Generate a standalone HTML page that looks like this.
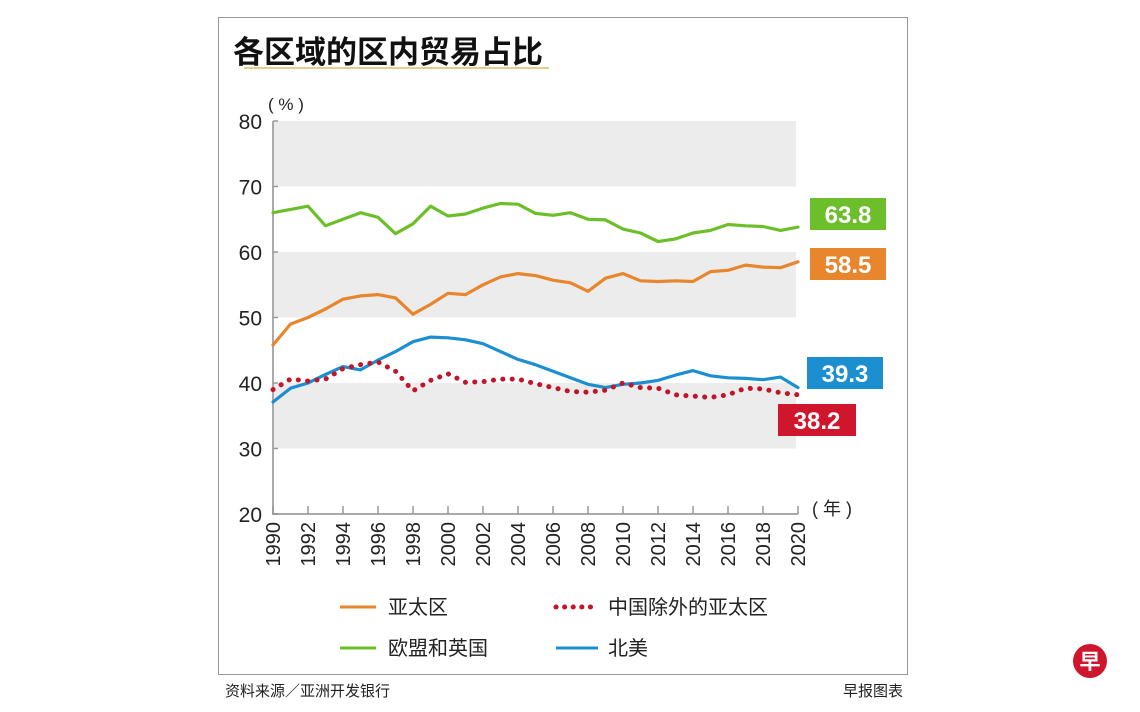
<!DOCTYPE html>
<html><head><meta charset="utf-8"><style>
body{margin:0;background:#fff;}
svg{display:block;font-family:"Liberation Sans","Noto Sans CJK SC",sans-serif;}
</style></head><body>
<svg width="1140" height="712" viewBox="0 0 1140 712">
<rect x="218.5" y="17.5" width="689" height="657" fill="none" stroke="#999" stroke-width="1"/>
<text x="233" y="63" font-size="31" font-weight="bold" fill="#111">各区域的区内贸易占比</text>
<rect x="244" y="67" width="305" height="2" fill="#e2cf8e"/>
<text x="268" y="110" font-size="17" fill="#222">( % )</text>
<g id="bands"></g>
<g id="axes"></g>
<g id="series"></g>
<text x="812" y="515" font-size="18" fill="#222">( 年 )</text>
<rect x="810" y="198" width="76" height="32" fill="#6cbf2a"/>
<text x="848" y="223" font-size="24" font-weight="bold" fill="#fff" text-anchor="middle">63.8</text>
<rect x="810" y="248" width="76" height="32" fill="#e8862d"/>
<text x="848" y="273" font-size="24" font-weight="bold" fill="#fff" text-anchor="middle">58.5</text>
<rect x="807" y="357" width="76" height="32" fill="#1b8fd0"/>
<text x="845" y="382" font-size="24" font-weight="bold" fill="#fff" text-anchor="middle">39.3</text>
<rect x="778" y="404" width="78" height="32" fill="#d0162c"/>
<text x="817" y="429" font-size="24" font-weight="bold" fill="#fff" text-anchor="middle">38.2</text>
<g>
<line x1="340" y1="607" x2="376" y2="607" stroke="#e8862d" stroke-width="3"/>
<text x="388" y="614" font-size="20" fill="#222">亚太区</text>
<line x1="556" y1="607" x2="598" y2="607" stroke="#c0152a" stroke-width="5" stroke-dasharray="0.1 8.5" stroke-linecap="round"/>
<text x="608" y="614" font-size="20" fill="#222">中国除外的亚太区</text>
<line x1="340" y1="648" x2="376" y2="648" stroke="#6cbf2a" stroke-width="3"/>
<text x="388" y="655" font-size="20" fill="#222">欧盟和英国</text>
<line x1="556" y1="648" x2="598" y2="648" stroke="#1b8fd0" stroke-width="3"/>
<text x="608" y="655" font-size="20" fill="#222">北美</text>
</g>
<text x="225" y="696" font-size="15" fill="#222">资料来源／亚洲开发银行</text>
<text x="903" y="696" font-size="15" fill="#222" text-anchor="end">早报图表</text>
<circle cx="1090" cy="661" r="17" fill="#d0162c"/>
<text x="1090" y="669" font-size="21" font-weight="bold" fill="#fff" text-anchor="middle">早</text>
</svg>
<script>
const years=[1990,1991,1992,1993,1994,1995,1996,1997,1998,1999,2000,2001,2002,2003,2004,2005,2006,2007,2008,2009,2010,2011,2012,2013,2014,2015,2016,2017,2018,2019,2020];
const yTicks=[20,30,40,50,60,70,80];
const xTickLabels=[1990,1992,1994,1996,1998,2000,2002,2004,2006,2008,2010,2012,2014,2016,2018,2020];
const euUk=[66,66.5,67,64,65,66,65.3,62.8,64.3,67,65.5,65.8,66.7,67.4,67.3,65.9,65.6,66,65,64.9,63.5,62.9,61.6,62,62.9,63.3,64.2,64,63.9,63.3,63.8];
const apac=[45.8,49,50,51.3,52.8,53.3,53.5,53,50.5,52,53.7,53.5,55,56.2,56.7,56.4,55.7,55.3,54,56,56.7,55.6,55.5,55.6,55.5,57,57.2,58,57.7,57.6,58.5];
const northAmerica=[37.1,39.2,40,41.3,42.5,42,43.5,44.8,46.3,47,46.9,46.6,46,44.8,43.6,42.8,41.8,40.8,39.8,39.3,39.8,40,40.4,41.2,41.9,41.1,40.8,40.7,40.5,40.9,39.3];
const apacExChina=[39,40.6,40.3,40.6,42.2,42.8,43.2,41.8,38.8,40.4,41.4,40.1,40.2,40.6,40.6,39.9,39.3,38.7,38.6,38.9,40,39.3,39.2,38.2,38,37.8,38.2,39.2,39.1,38.5,38.2];
const NS='http://www.w3.org/2000/svg';
const x=yr=>273+(yr-1990)*(525/30);
const y=v=>514-(v-20)*(393/60);
function mk(tag,attrs,parent){const e=document.createElementNS(NS,tag);for(const k in attrs)e.setAttribute(k,attrs[k]);document.getElementById(parent).appendChild(e);return e;}
[[70,80],[50,60],[30,40]].forEach(b=>{
  const r=mk('rect',{x:x(1990),y:y(b[1]),width:x(2020)-x(1990)-2,height:y(b[0])-y(b[1]),fill:'#ececec'},'bands');
  
  
});
const ax=mk('path',{d:`M${x(1990)},${y(80)} V${y(20)} H${x(2020)}`,fill:'none',stroke:'#aaa','stroke-width':2},'axes');


yTicks.forEach(v=>{
  const t=mk('text',{x:262,y:y(v)+8,'font-size':21,'text-anchor':'end',fill:'#222'},'axes');t.textContent=v;
  
  
  const l=mk('line',{x1:x(1990),x2:x(1990)+5,y1:y(v),y2:y(v),stroke:'#999','stroke-width':1.5},'axes');
  
  
});
xTickLabels.forEach(yr=>{
  const l=mk('line',{x1:x(yr),x2:x(yr),y1:y(20),y2:y(20)-8,stroke:'#999','stroke-width':1.5},'axes');
  
  
  const t=mk('text',{x:0,y:0,'font-size':20,fill:'#222','text-anchor':'end',transform:`translate(${x(yr)+7},${522}) rotate(-90)`},'axes');
  t.textContent=yr;
  
  
});
function line(vals,color,name,dotted){
  const d=vals.map((v,i)=>(i?'L':'M')+x(years[i]).toFixed(1)+','+y(v).toFixed(1)).join(' ');
  const p=mk('path',{d,fill:'none',stroke:color,'stroke-width':dotted?5:3.2,'stroke-linejoin':'round','stroke-linecap':'round'},'series');
  if(dotted){p.setAttribute('stroke-dasharray','0.1 9.3');}
  
  
}
line(euUk,'#6cbf2a','line-eu-uk');
line(apac,'#e8862d','line-apac');
line(northAmerica,'#1b8fd0','line-north-america');
line(apacExChina,'#c0152a','line-apac-ex-china',true);
</script>
</body></html>
